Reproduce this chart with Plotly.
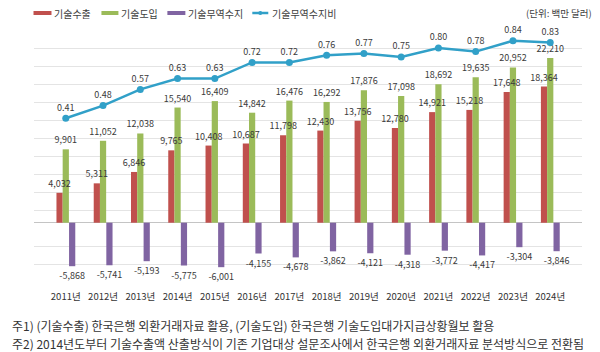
import plotly.graph_objects as go

years = ["2011년", "2012년", "2013년", "2014년", "2015년", "2016년", "2017년",
         "2018년", "2019년", "2020년", "2021년", "2022년", "2023년", "2024년"]
exports = [4032, 5311, 6846, 9765, 10408, 10687, 11798, 12430, 13756, 12780, 14921, 15218, 17648, 18364]
imports = [9901, 11052, 12038, 15540, 16409, 14842, 16476, 16292, 17876, 17098, 18692, 19635, 20952, 22210]
balance = [-5868, -5741, -5193, -5775, -6001, -4155, -4678, -3862, -4121, -4318, -3772, -4417, -3304, -3846]
ratio = [0.41, 0.48, 0.57, 0.63, 0.63, 0.72, 0.72, 0.76, 0.77, 0.75, 0.80, 0.78, 0.84, 0.83]

names = ["기술수출", "기술도입", "기술무역수지", "기술무역수지비"]
colors = ["#C0504D", "#9BBB59", "#8064A2", "#31A0C8"]
notes = [
    "주1) (기술수출) 한국은행 외환거래자료 활용, (기술도입) 한국은행 기술도입대가지급상황월보 활용",
    "주2) 2014년도부터 기술수출액 산출방식이 기존 기업대상 설문조사에서 한국은행 외환거래자료 분석방식으로 전환됨",
]
unit_text = "(단위: 백만 달러)"

W, H = 600, 352
L, R, T, B = 33.5, 18, 30, 70
PW, PH = W - L - R, H - T - B

def px(x):
    return (x - L) / PW

def py(y):
    return (H - B - y) / PH

FONT = "Noto Sans CJK KR"
LBL = dict(family=FONT, size=9, color="#3A3A3A")

BW = 0.167
offsets = [-0.25, -0.0835, 0.088]
series = [exports, imports, balance]

fig = go.Figure()
for vals, nm, col, off in zip(series, names[:3], colors[:3], offsets):
    fig.add_trace(go.Bar(
        x=years, y=vals, name=nm, marker=dict(color=col, line=dict(width=0)),
        width=BW, offset=off, yaxis="y", showlegend=False,
    ))
# label layers drawn above all bars
for vals, nm, off in zip(series, names[:3], offsets):
    fig.add_trace(go.Bar(
        x=years, y=vals, name=nm, marker=dict(color="rgba(0,0,0,0)", line=dict(width=0)),
        width=BW, offset=off, yaxis="y", showlegend=False, hoverinfo="skip",
        text=[f"{v:,}" for v in vals], textposition="outside", textangle=0,
        constraintext="none", cliponaxis=False, textfont=LBL,
    ))

fig.add_trace(go.Scatter(
    x=years, y=ratio, name=names[3], mode="lines+markers+text",
    line=dict(color=colors[3], width=2.5),
    marker=dict(color=colors[3], size=7),
    text=[f"{v:.2f}" for v in ratio], textposition="top center",
    textfont=LBL, cliponaxis=False, yaxis="y2", showlegend=False,
))

grid_vals = [-0.5, -0.4, -0.3, -0.1, 0, 0.1, 0.2, 0.3, 0.4, 0.5, 0.6, 0.7, 0.8, 0.9]

fig.update_layout(
    width=W, height=H, margin=dict(l=L, r=R, t=T, b=B),
    paper_bgcolor="white", plot_bgcolor="white",
    barmode="overlay",
    font=dict(family=FONT, color="#404040"),
    xaxis=dict(showgrid=False, showline=False, ticks="", zeroline=False,
               tickfont=dict(family=FONT, size=9.5, color="#333333"),
               ticklabelstandoff=7),
    yaxis=dict(range=[-8000, 26000], showgrid=False, showticklabels=False,
               zeroline=True, zerolinecolor="#C4C4C4", zerolinewidth=1, ticks=""),
    yaxis2=dict(range=[-0.5, 0.9], overlaying="y", side="right",
                tickvals=grid_vals, showticklabels=False, showgrid=True,
                gridcolor="#E4E4E4", gridwidth=1, zeroline=False, ticks=""),
)

# custom legend
leg_y = 13
items = [(33, 51, 52), (101, 118, 119), (167, 185, 186), (252, 268, 270)]
for i, (x0, x1, xt) in enumerate(items):
    if i < 3:
        fig.add_shape(type="rect", xref="paper", yref="paper",
                      x0=px(x0), x1=px(x1), y0=py(leg_y + 2), y1=py(leg_y - 2),
                      fillcolor=colors[i], line=dict(width=0))
    else:
        fig.add_shape(type="line", xref="paper", yref="paper",
                      x0=px(x0), x1=px(x1), y0=py(leg_y), y1=py(leg_y),
                      line=dict(color=colors[3], width=2.5))
        fig.add_shape(type="circle", xref="paper", yref="paper",
                      x0=px(258), x1=px(262), y0=py(leg_y + 2), y1=py(leg_y - 2),
                      fillcolor=colors[3], line=dict(width=0))
    fig.add_annotation(xref="paper", yref="paper", x=px(xt), y=py(leg_y),
                       text=names[i], showarrow=False, xanchor="left", yanchor="middle",
                       font=dict(family=FONT, size=10, color="#404040"))

fig.add_annotation(xref="paper", yref="paper", x=px(594), y=py(13),
                   text=unit_text, showarrow=False, xanchor="right", yanchor="middle",
                   font=dict(family=FONT, size=9.5, color="#404040"))

for i, (t, yy) in enumerate(zip(notes, [325, 343])):
    fig.add_annotation(xref="paper", yref="paper", x=px(9), y=py(yy),
                       text=t, showarrow=False, xanchor="left", yanchor="middle",
                       font=dict(family=FONT, size=12, color="#333333"))

fig.write_html("out.html")
